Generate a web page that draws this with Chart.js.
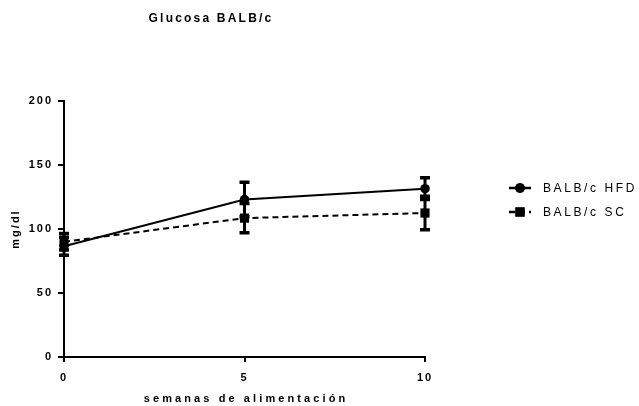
<!DOCTYPE html>
<html>
<head>
<meta charset="utf-8">
<script src="https://cdn.jsdelivr.net/npm/chart.js@4.4.1/dist/chart.umd.min.js"></script>
<style>
  html, body { margin: 0; padding: 0; background: #fff; }
  #wrap { width: 639px; height: 406px; position: relative; }
</style>
</head>
<body>
<div id="wrap"><canvas id="c" width="639" height="406"></canvas></div>
<script>
// Weeks of feeding
const weeks = [0, 5, 10];
// Blood glucose (mg/dl), mean and error
const hfdMean = [86.5, 123, 131.5];
const hfdErr  = [7, 13.5, 8.5];
const scMean  = [90, 108.5, 112.5];
const scErr   = [6.5, 11.5, 13];
const seriesNames = ['BALB/c HFD', 'BALB/c SC'];
const chartTitle = 'Glucosa BALB/c';
const xTitle = 'semanas de alimentación';
const yTitle = 'mg/dl';

const FONT = '"Liberation Sans", Arial, sans-serif';

const toXY = (xs, ys) => xs.map((x, i) => ({ x: x, y: ys[i] }));

// Vertical error bars with caps, drawn in data space
const errorBars = {
  id: 'errorBars',
  afterDatasetsDraw(chart) {
    const ctx = chart.ctx;
    const xs = chart.scales.x, ys = chart.scales.y;
    const errs = [hfdErr, scErr];
    chart.data.datasets.forEach((ds, di) => {
      ds.data.forEach((p, i) => {
        const e = errs[di][i];
        const px = xs.getPixelForValue(p.x);
        const top = ys.getPixelForValue(p.y + e);
        const bot = ys.getPixelForValue(p.y - e);
        ctx.save();
        ctx.strokeStyle = '#000';
        ctx.lineWidth = 3;
        ctx.beginPath();
        ctx.moveTo(px, top); ctx.lineTo(px, bot);
        ctx.stroke();
        ctx.lineWidth = 3.5;
        ctx.beginPath();
        ctx.moveTo(px - 5, top); ctx.lineTo(px + 5, top);
        ctx.moveTo(px - 5, bot); ctx.lineTo(px + 5, bot);
        ctx.stroke();
        ctx.restore();
      });
    });
  }
};

// Title, x-axis title and legend with spaced lettering
const textDecor = {
  id: 'textDecor',
  beforeLayout(chart) {
    chart.ctx.letterSpacing = '2px';
  },
  beforeDraw(chart) {
    chart.ctx.letterSpacing = '2px';
  },
  afterDraw(chart) {
    const ctx = chart.ctx;
    const area = chart.chartArea;
    ctx.save();
    ctx.fillStyle = '#000';
    ctx.textBaseline = 'middle';
    ctx.letterSpacing = '2.2px';
    ctx.font = 'bold 12px ' + FONT;
    ctx.textAlign = 'center';
    ctx.fillText(chartTitle, 211, 19);

    ctx.font = 'bold 11px ' + FONT;
    ctx.letterSpacing = '3.1px';
    ctx.fillText(xTitle, (area.left + area.right) / 2 + 1.5, 399);

    ctx.font = '12px ' + FONT;
    ctx.letterSpacing = '2.6px';
    ctx.textAlign = 'left';
    const rows = [188, 212];
    chart.data.datasets.forEach((ds, i) => {
      const y = rows[i];
      ctx.save();
      ctx.strokeStyle = '#000';
      ctx.lineWidth = 2.5;
      ctx.setLineDash(ds.borderDash || []);
      ctx.beginPath();
      ctx.moveTo(509, y); ctx.lineTo(531, y);
      ctx.stroke();
      ctx.restore();
      Chart.helpers.drawPoint(ctx, {
        pointStyle: ds.pointStyle, radius: ds.pointRadius, rotation: 0, borderWidth: 0
      }, 520, y);
      ctx.fill();
      ctx.fillText(seriesNames[i], 543, y + 1);
    });
    ctx.restore();
  }
};

const tickFont = { family: FONT, size: 11, weight: 'bold' };

new Chart(document.getElementById('c'), {
  type: 'line',
  data: {
    datasets: [
      {
        label: seriesNames[0],
        data: toXY(weeks, hfdMean),
        borderColor: '#000', backgroundColor: '#000',
        borderWidth: 2, pointStyle: 'circle', pointRadius: 4.8,
        pointBorderWidth: 0, tension: 0, clip: false
      },
      {
        label: seriesNames[1],
        data: toXY(weeks, scMean),
        borderColor: '#000', backgroundColor: '#000',
        borderWidth: 2, borderDash: [6, 4], pointStyle: 'rect', pointRadius: 6.5,
        pointBorderWidth: 0, tension: 0, clip: false
      }
    ]
  },
  options: {
    responsive: false,
    animation: false,
    layout: { padding: { left: 0, right: 214, top: 101, bottom: 0 } },
    plugins: { legend: { display: false }, title: { display: false }, tooltip: { enabled: false } },
    scales: {
      x: {
        type: 'linear', min: 0, max: 10,
        afterFit(s) { s.height = 49; },
        ticks: { stepSize: 5, color: '#000', font: tickFont, padding: 9 },
        grid: { drawOnChartArea: false, drawTicks: true, tickLength: 5, color: '#000', lineWidth: 2 },
        border: { color: '#000', width: 2 },
        title: { display: false, text: xTitle }
      },
      y: {
        min: 0, max: 200,
        afterFit(s) { s.width = 64; },
        ticks: { stepSize: 50, color: '#000', font: tickFont, padding: 5 },
        grid: { drawOnChartArea: false, drawTicks: true, tickLength: 6, color: '#000', lineWidth: 2 },
        border: { color: '#000', width: 2 },
        title: { display: true, text: yTitle, color: '#000', font: tickFont, padding: { top: 9, bottom: 0 } }
      }
    }
  },
  plugins: [errorBars, textDecor]
});
</script>
</body>
</html>
